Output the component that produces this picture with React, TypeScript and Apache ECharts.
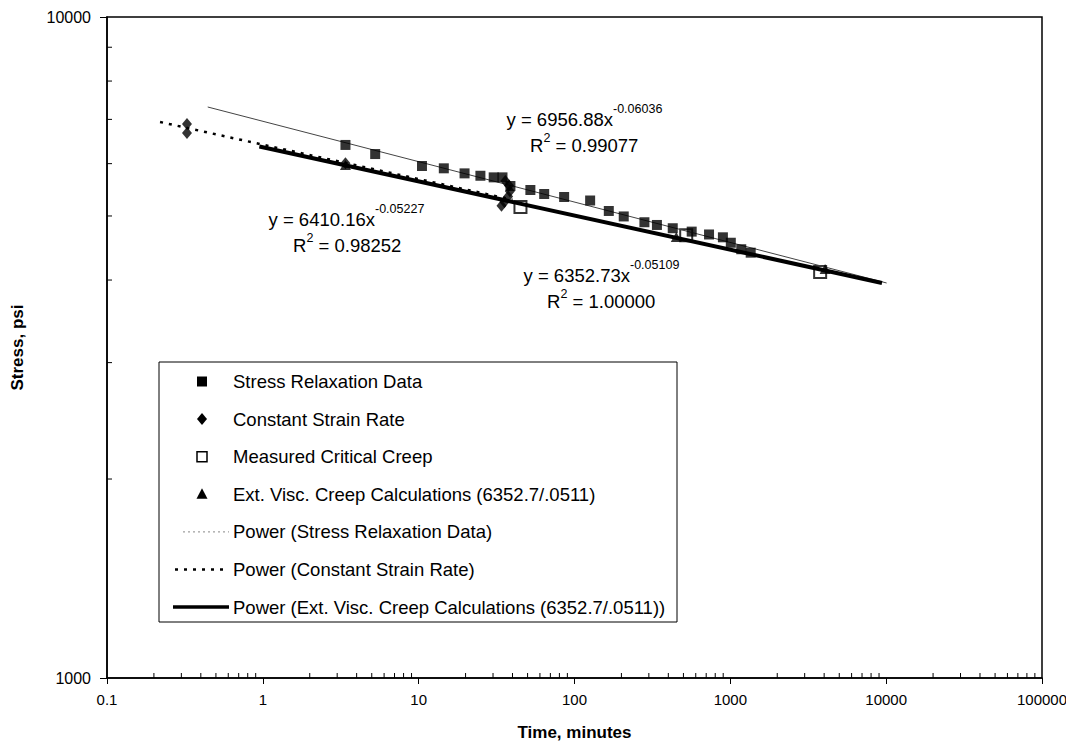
import React, { useEffect, useRef } from "react";
import * as echarts from "echarts";

// ---------------- data ----------------
const stressRelaxTime = [3.39, 5.26, 10.5, 14.5, 19.7, 24.9, 30.3, 34.5, 38.8, 52.1, 63.9, 85.8, 126, 166, 207, 281, 338, 427, 565, 730, 896, 1007, 1175, 1351];
const stressRelaxStress = [6404, 6204, 5951, 5903, 5800, 5752, 5720, 5720, 5550, 5474, 5398, 5342, 5277, 5088, 4992, 4892, 4846, 4791, 4735, 4688, 4642, 4555, 4453, 4400];

const csrTime = [0.326, 0.326, 3.39, 36, 38, 38.5, 37.5, 35.5, 34];
const csrStress = [6889, 6676, 6010, 5650, 5560, 5450, 5350, 5250, 5180];

const creepTime = [45, 521, 3770];
const creepStress = [5160, 4677, 4113];

const extViscTime = [3.39, 450, 4056];
const extViscStress = [5970, 4649, 4157];

// power-law trend lines are straight on log-log axes: their two end points
const srFitTime = [0.443, 10070];
const srFitStress = [7309, 3959];
const csrFitTime = [0.219, 40];
const csrFitStress = [6937, 5290];
const evFitTime = [0.95, 9400];
const evFitStress = [6370, 3960];

const legendNames = [
  "Stress Relaxation Data",
  "Constant Strain Rate",
  "Measured Critical Creep",
  "Ext. Visc. Creep Calculations (6352.7/.0511)",
  "Power (Stress Relaxation Data)",
  "Power (Constant Strain Rate)",
  "Power (Ext. Visc. Creep Calculations (6352.7/.0511))",
];

const xMin = 0.1;
const xMax = 100000;
const yMin = 1000;
const yMax = 10000;
const minorSteps = [2, 3, 4, 5, 6, 7, 8, 9];
const xDecades = [0.1, 1, 10, 100, 1000, 10000];
const yDecades = [1000];

const FONT = '"Liberation Sans", Arial, Helvetica, sans-serif';
const LF = 18.5; // legend / label font size
const SF = 12.5; // superscript size

const zip = (a: number[], b: number[]) => a.map((v, i) => [v, b[i]]);

export default function App() {
  const ref = useRef<HTMLDivElement>(null);

  useEffect(() => {
    if (!ref.current) return;
    const chart = echarts.init(ref.current, undefined, { renderer: "svg" });

    const xMinor = xDecades.flatMap((d) => minorSteps.map((s) => d * s));
    const yMinor = yDecades.flatMap((d) => minorSteps.map((s) => d * s));

    const fmt = (v: number) => String(Number(Number(v).toPrecision(6)));

    const tickSeries = (data: number[][], dir: "y" | "x") => ({
      type: "custom",
      coordinateSystem: "cartesian2d",
      silent: true,
      clip: false,
      z: 5,
      data,
      renderItem: (_p: any, api: any) => {
        const pt = api.coord([api.value(0), api.value(1)]);
        return dir === "y"
          ? { type: "line", shape: { x1: pt[0], y1: pt[1], x2: pt[0] + 5, y2: pt[1] }, style: { stroke: "#000", lineWidth: 1 } }
          : { type: "line", shape: { x1: pt[0], y1: pt[1], x2: pt[0], y2: pt[1] - 5 }, style: { stroke: "#000", lineWidth: 1 } };
      },
    });

    const txt = (x: number, y: number, text: string, size: number, align = "left") => ({
      type: "text",
      x,
      y,
      z: 100,
      style: {
        text,
        fill: "#000",
        font: `${size}px ${FONT}`,
        align,
        verticalAlign: "middle",
      },
    });

    const eqLabel = (xMid: number, y: number, main: string, sup: string, rStart: number, r: string) => [
      txt(xMid, y, main, LF, "right"),
      txt(xMid, y - 10, sup, SF, "left"),
      txt(rStart, y + 26, "R", LF, "left"),
      txt(rStart + 13.4, y + 19, "2", SF, "left"),
      txt(rStart + 20.4, y + 26, r, LF, "left"),
    ];

    // legend (drawn by hand, Excel style)
    const lgX = 159, lgY = 362, lgW = 518, lgH = 260;
    const rowY = (i: number) => 381.5 + i * 37.6;
    const mk = 202;
    const legendItems: any[] = [
      { type: "rect", z: 99, shape: { x: lgX, y: lgY, width: lgW, height: lgH }, style: { fill: "#fff", stroke: "#000", lineWidth: 1 } },
      { type: "rect", z: 100, shape: { x: mk - 5, y: rowY(0) - 5, width: 10, height: 10 }, style: { fill: "#000" } },
      { type: "polygon", z: 100, shape: { points: [[mk, rowY(1) - 6], [mk + 5, rowY(1)], [mk, rowY(1) + 6], [mk - 5, rowY(1)]] }, style: { fill: "#000" } },
      { type: "rect", z: 100, shape: { x: mk - 5, y: rowY(2) - 5, width: 10, height: 10 }, style: { fill: "#fff", stroke: "#000", lineWidth: 1.5 } },
      { type: "polygon", z: 100, shape: { points: [[mk, rowY(3) - 6], [mk + 5.5, rowY(3) + 4.5], [mk - 5.5, rowY(3) + 4.5]] }, style: { fill: "#000" } },
      { type: "line", z: 100, shape: { x1: 183, y1: rowY(4), x2: 229, y2: rowY(4) }, style: { stroke: "#888", lineWidth: 1, lineDash: [2, 3] } },
      { type: "line", z: 100, shape: { x1: 175, y1: rowY(5), x2: 229, y2: rowY(5) }, style: { stroke: "#000", lineWidth: 2.5, lineDash: [3, 6] } },
      { type: "line", z: 100, shape: { x1: 173, y1: rowY(6), x2: 229, y2: rowY(6) }, style: { stroke: "#000", lineWidth: 3.5 } },
      ...legendNames.map((n, i) => txt(233, rowY(i), n, LF, "left")),
    ];

    const option: any = {
      animation: false,
      backgroundColor: "#fff",
      grid: { left: 107, right: 32, top: 17, bottom: 72, show: true, borderColor: "#000", borderWidth: 1.5, backgroundColor: "transparent" },
      xAxis: {
        type: "log",
        logBase: 10,
        min: xMin,
        max: xMax,
        name: "Time, minutes",
        nameLocation: "middle",
        nameGap: 46,
        nameTextStyle: { fontFamily: FONT, fontWeight: "bold", fontSize: 17, color: "#000" },
        axisLine: { lineStyle: { color: "#000", width: 1.5 } },
        axisTick: { show: true, inside: false, length: 6, lineStyle: { color: "#000" } },
        axisLabel: { fontFamily: FONT, fontSize: 15, color: "#000", margin: 14, formatter: fmt },
        splitLine: { show: false },
        minorTick: { show: false },
      },
      yAxis: {
        type: "log",
        logBase: 10,
        min: yMin,
        max: yMax,
        name: "Stress, psi",
        nameLocation: "middle",
        nameGap: 81,
        nameTextStyle: { fontFamily: FONT, fontWeight: "bold", fontSize: 17, color: "#000" },
        axisLine: { lineStyle: { color: "#000", width: 1.5 } },
        axisTick: { show: true, inside: false, length: 7, lineStyle: { color: "#000" } },
        axisLabel: { fontFamily: FONT, fontSize: 16, color: "#000", margin: 16, formatter: fmt },
        splitLine: { show: false },
      },
      series: [
        tickSeries(yMinor.map((v) => [xMin, v]), "y"),
        tickSeries(xMinor.filter((v) => v > xMin && v < xMax).map((v) => [v, yMin]), "x"),
        {
          name: legendNames[2],
          type: "scatter",
          z: 2,
          symbol: "rect",
          symbolSize: 12,
          itemStyle: { color: "#fff", borderColor: "#000", borderWidth: 2 },
          data: zip(creepTime, creepStress),
        },
        {
          name: legendNames[4],
          type: "line",
          z: 3,
          symbol: "none",
          lineStyle: { color: "#444", width: 1 },
          data: zip(srFitTime, srFitStress),
        },
        {
          name: legendNames[5],
          type: "line",
          z: 3,
          symbol: "none",
          lineStyle: { color: "#000", width: 2.5, type: [3, 6] },
          data: zip(csrFitTime, csrFitStress),
        },
        {
          name: legendNames[6],
          type: "line",
          z: 3,
          symbol: "none",
          lineStyle: { color: "#000", width: 4 },
          data: zip(evFitTime, evFitStress),
        },
        {
          name: legendNames[0],
          type: "scatter",
          z: 4,
          symbol: "rect",
          symbolSize: 10,
          itemStyle: { color: "#000" },
          data: zip(stressRelaxTime, stressRelaxStress),
        },
        {
          name: legendNames[1],
          type: "scatter",
          z: 4,
          symbol: "diamond",
          symbolSize: [10, 12],
          itemStyle: { color: "#000" },
          data: zip(csrTime, csrStress),
        },
        {
          name: legendNames[3],
          type: "scatter",
          z: 4,
          symbol: "triangle",
          symbolSize: [11, 10],
          itemStyle: { color: "#000" },
          data: zip(extViscTime, extViscStress),
        },
      ],
      graphic: [
        ...eqLabel(613, 119, "y = 6956.88x", "-0.06036", 530, " = 0.99077"),
        ...eqLabel(375, 219, "y = 6410.16x", "-0.05227", 293, " = 0.98252"),
        ...eqLabel(630, 275, "y = 6352.73x", "-0.05109", 547, " = 1.00000"),
        ...legendItems,
      ],
    };

    chart.setOption(option);
    return () => chart.dispose();
  }, []);

  return <div ref={ref} style={{ width: 1074, height: 750, margin: -8 }} />;
}
